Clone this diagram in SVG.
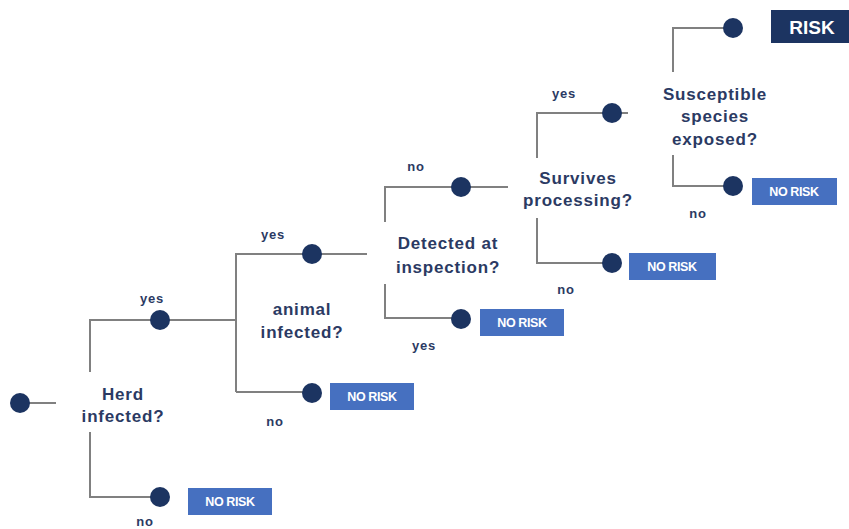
<svg xmlns="http://www.w3.org/2000/svg" width="849" height="529" viewBox="0 0 849 529">
<style>
.ln{stroke:#808080;stroke-width:2;fill:none}
.dot{fill:#1c3461}
.q{font-family:"Liberation Sans",Arial,sans-serif;font-weight:bold;font-size:17px;letter-spacing:0.8px;fill:#2b3a63;text-anchor:middle}
.yn{font-family:"Liberation Sans",Arial,sans-serif;font-weight:bold;font-size:13px;letter-spacing:0.8px;fill:#2b3a63;text-anchor:middle}
.nr{fill:#4670c0}
.nrt{font-family:"Liberation Sans",Arial,sans-serif;font-weight:bold;font-size:12.5px;letter-spacing:-0.4px;fill:#ffffff;text-anchor:middle}
.rk{fill:#1c3461}
.rkt{font-family:"Liberation Sans",Arial,sans-serif;font-weight:bold;font-size:19px;fill:#ffffff;text-anchor:middle}
</style>
<rect width="849" height="529" fill="#ffffff"/>
<g id="connectors">
<path class="ln" d="M20 403H56"/>
<path class="ln" d="M90 372V320H236"/>
<path class="ln" d="M90 432V497H160"/>
<path class="ln" d="M236 392V254H367"/>
<path class="ln" d="M236 392H312"/>
<path class="ln" d="M385 222V187H508"/>
<path class="ln" d="M385 284V318H461"/>
<path class="ln" d="M537 158V113H628"/>
<path class="ln" d="M537 218V263H612"/>
<path class="ln" d="M673 72V28H733"/>
<path class="ln" d="M673 155V186H733"/>
</g>
<g id="start"><circle class="dot" cx="20" cy="403" r="10"/></g>
<g id="q1"><text class="q" x="123" y="400">Herd</text><text class="q" x="123" y="422">infected?</text></g>
<g id="q1yes"><circle class="dot" cx="160" cy="320" r="10"/><text class="yn" x="152" y="303">yes</text></g>
<g id="q1no"><circle class="dot" cx="160" cy="497" r="10"/><text class="yn" x="145" y="526">no</text><rect class="nr" x="188" y="488" width="84" height="27"/><text class="nrt" x="230" y="506">NO RISK</text></g>
<g id="q2"><text class="q" x="302" y="315">animal</text><text class="q" x="302" y="338">infected?</text></g>
<g id="q2yes"><circle class="dot" cx="312" cy="254" r="10"/><text class="yn" x="273" y="239">yes</text></g>
<g id="q2no"><circle class="dot" cx="312" cy="393" r="10"/><text class="yn" x="275" y="426">no</text><rect class="nr" x="330" y="383" width="84" height="27"/><text class="nrt" x="372" y="401">NO RISK</text></g>
<g id="q3"><text class="q" x="448" y="249">Detected at</text><text class="q" x="448" y="273">inspection?</text></g>
<g id="q3no"><circle class="dot" cx="461" cy="187" r="10"/><text class="yn" x="416" y="171">no</text></g>
<g id="q3yes"><circle class="dot" cx="461" cy="319" r="10"/><text class="yn" x="424" y="350">yes</text><rect class="nr" x="480" y="309" width="84" height="27"/><text class="nrt" x="522" y="327">NO RISK</text></g>
<g id="q4"><text class="q" x="578" y="184">Survives</text><text class="q" x="578" y="206">processing?</text></g>
<g id="q4yes"><circle class="dot" cx="612" cy="113" r="10"/><text class="yn" x="564" y="98">yes</text></g>
<g id="q4no"><circle class="dot" cx="612" cy="263" r="10"/><text class="yn" x="566" y="294">no</text><rect class="nr" x="629" y="253" width="87" height="27"/><text class="nrt" x="672" y="271">NO RISK</text></g>
<g id="q5"><text class="q" x="715" y="100">Susceptible</text><text class="q" x="715" y="122">species</text><text class="q" x="715" y="145">exposed?</text></g>
<g id="q5yes"><circle class="dot" cx="733" cy="28" r="10"/><rect class="rk" x="771" y="10" width="78" height="33"/><text class="rkt" x="812" y="34">RISK</text></g>
<g id="q5no"><circle class="dot" cx="733" cy="186" r="10"/><text class="yn" x="698" y="218">no</text><rect class="nr" x="752" y="178" width="85" height="27"/><text class="nrt" x="794" y="196">NO RISK</text></g>
</svg>
